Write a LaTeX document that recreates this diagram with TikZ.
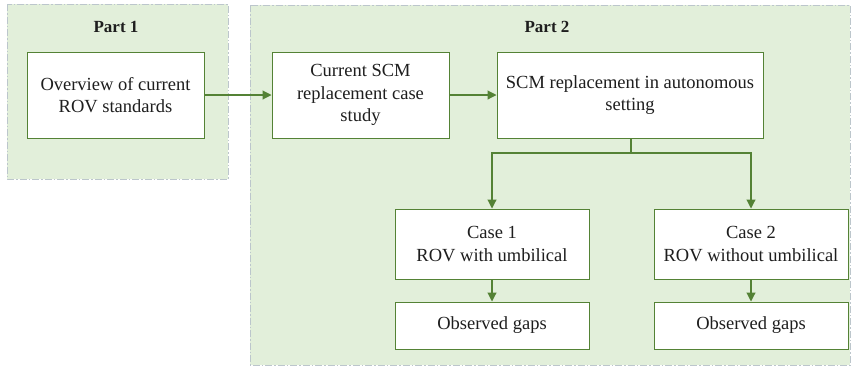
\documentclass[tikz,border=0pt]{standalone}
\usepackage{fontspec}
\setmainfont{Liberation Serif}
\usetikzlibrary{shadows,arrows.meta}
\definecolor{panelfill}{HTML}{E2EFDA}
\definecolor{paneledge}{HTML}{BCC6CC}
\definecolor{boxedge}{HTML}{548235}
\definecolor{txt}{HTML}{1E1E1E}
\tikzset{
  panel/.style={fill=panelfill, draw=paneledge, line width=0.9pt,
    dash pattern=on 7pt off 2pt on 1.5pt off 2pt},
  stepbox/.style={draw=boxedge, fill=white, line width=1pt,
    drop shadow={shadow xshift=1.2pt, shadow yshift=-1.2pt, opacity=0.25, fill=black!60},
    align=center, font=\fontsize{18.5}{22.5}\selectfont, text=txt, inner sep=0pt},
  parttitle/.style={font=\fontsize{17}{20}\selectfont\bfseries, text=txt},
  flow/.style={draw=boxedge, line width=1.1pt, -{Triangle[length=9pt,width=9pt]}},
}
\begin{document}
\begin{tikzpicture}[x=1pt,y=-1pt]
\useasboundingbox (0,0) rectangle (853,368);
% part panels
\draw[panel] (7,4) rectangle (228,179);
\draw[panel] (250,5) rectangle (850,365);
\node[parttitle] (t1) at (116,27) {Part 1};
\node[parttitle] (t2) at (547,27) {Part 2};
% process boxes
\node[stepbox, minimum width=177pt, minimum height=86pt] (ov) at (115.5,95) {Overview of current\\ROV standards};
\node[stepbox, minimum width=177pt, minimum height=86pt] (cs) at (360.5,95) {Current SCM\\replacement case\\study};
\node[stepbox, minimum width=266pt, minimum height=86pt] (auto) at (630,95) {SCM replacement in autonomous\\setting};
\node[stepbox, minimum width=194pt, minimum height=70pt] (c1) at (492,244) {Case 1\\ROV with umbilical};
\node[stepbox, minimum width=194pt, minimum height=70pt] (c2) at (751,244) {Case 2\\ROV without umbilical};
\node[stepbox, minimum width=194pt, minimum height=47pt] (g1) at (492,325.5) {Observed gaps};
\node[stepbox, minimum width=194pt, minimum height=47pt] (g2) at (751,325.5) {Observed gaps};
% connectors
\draw[flow] (ov) -- (cs);
\draw[flow] (cs) -- (auto);
\coordinate (split) at (631,153);
\draw[flow] (auto.south -| split) -- (split) -| (c1.north);
\draw[flow] (split) -| (c2.north);
\draw[flow] (c1) -- (g1);
\draw[flow] (c2) -- (g2);
\end{tikzpicture}
\end{document}
